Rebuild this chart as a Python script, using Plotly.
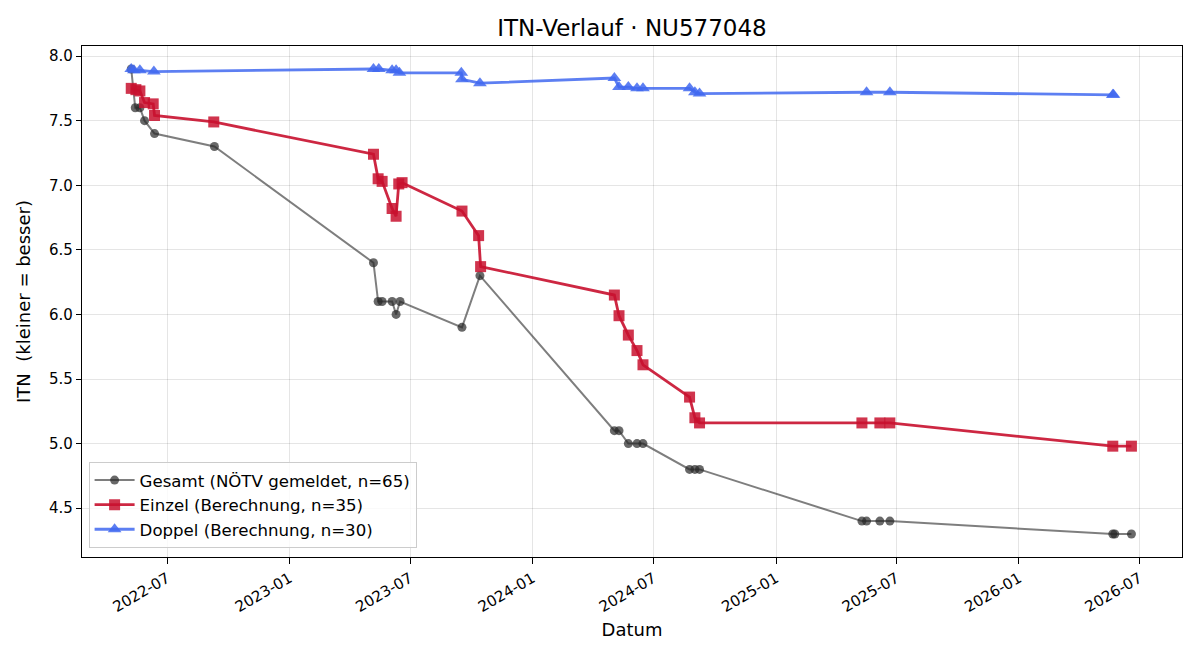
import plotly.graph_objects as go

# ---- data ----
gesamt_dates = ["2022-05-08", "2022-05-14", "2022-05-21", "2022-05-28", "2022-06-12",
                "2022-09-10", "2023-05-07", "2023-05-14", "2023-05-20", "2023-06-04",
                "2023-06-10", "2023-06-16", "2023-09-17", "2023-10-14", "2024-05-03",
                "2024-05-10", "2024-05-24", "2024-06-06", "2024-06-15", "2024-08-24",
                "2024-09-01", "2024-09-08", "2025-05-10", "2025-05-17", "2025-06-06",
                "2025-06-21", "2026-05-22", "2026-05-25", "2026-06-19"]
gesamt_vals = [7.9, 7.6, 7.6, 7.5, 7.4,
               7.3, 6.4, 6.1, 6.1, 6.1,
               6.0, 6.1, 5.9, 6.3, 5.1,
               5.1, 5.0, 5.0, 5.0, 4.8,
               4.8, 4.8, 4.4, 4.4, 4.4,
               4.4, 4.3, 4.3, 4.3]

einzel_dates = ["2022-05-08", "2022-05-15", "2022-05-21", "2022-05-28", "2022-06-10",
                "2022-06-12", "2022-09-09", "2023-05-07", "2023-05-14", "2023-05-20",
                "2023-06-04", "2023-06-10", "2023-06-14", "2023-06-19", "2023-09-17",
                "2023-10-12", "2023-10-15", "2024-05-03", "2024-05-10", "2024-05-24",
                "2024-06-06", "2024-06-15", "2024-08-24", "2024-09-01", "2024-09-08",
                "2025-05-10", "2025-06-06", "2025-06-21", "2026-05-22", "2026-06-19"]
einzel_vals = [7.75, 7.74, 7.73, 7.64, 7.63,
               7.54, 7.49, 7.24, 7.05, 7.03,
               6.82, 6.76, 7.01, 7.02, 6.80,
               6.61, 6.37, 6.15, 5.99, 5.84,
               5.72, 5.61, 5.36, 5.20, 5.16,
               5.16, 5.16, 5.16, 4.98, 4.98]

doppel_dates = ["2022-05-08", "2022-05-12", "2022-05-21", "2022-06-11", "2023-05-07",
                "2023-05-15", "2023-06-04", "2023-06-10", "2023-06-15", "2023-09-16",
                "2023-09-17", "2023-10-14", "2024-05-03", "2024-05-10", "2024-05-24",
                "2024-06-06", "2024-06-15", "2024-08-24", "2024-09-01", "2024-09-08",
                "2025-05-17", "2025-06-21", "2026-05-22", "2026-05-23"]
doppel_vals = [7.90, 7.89, 7.89, 7.88, 7.90,
               7.90, 7.89, 7.89, 7.87, 7.87,
               7.82, 7.79, 7.83, 7.76, 7.76,
               7.75, 7.75, 7.75, 7.72, 7.71,
               7.72, 7.72, 7.70, 7.70]

names = ["Gesamt (NÖTV gemeldet, n=65)",
         "Einzel (Berechnung, n=35)",
         "Doppel (Berechnung, n=30)"]

FONT = "DejaVu Sans"

fig = go.Figure()
fig.add_trace(go.Scatter(
    x=gesamt_dates, y=gesamt_vals, mode="lines+markers", name=names[0],
    line=dict(color="rgba(40,40,40,0.6)", width=2),
    marker=dict(symbol="circle", size=9, color="rgba(40,40,40,0.7)", line=dict(width=0)),
))
fig.add_trace(go.Scatter(
    x=einzel_dates, y=einzel_vals, mode="lines+markers", name=names[1],
    line=dict(color="rgba(200,16,46,0.9)", width=2.8),
    marker=dict(symbol="square", size=11, color="rgba(200,16,46,0.85)", line=dict(width=0)),
))
fig.add_trace(go.Scatter(
    x=doppel_dates, y=doppel_vals, mode="lines+markers", name=names[2],
    line=dict(color="rgba(65,105,240,0.85)", width=2.8),
    marker=dict(symbol="triangle-up", size=12, color="rgba(65,105,240,0.85)", line=dict(width=0)),
))

fig.update_layout(
    width=1200, height=660,
    margin=dict(l=82, r=18, t=46, b=103),
    paper_bgcolor="white", plot_bgcolor="white",
    font=dict(family=FONT, size=15, color="black"),
    title=dict(text="ITN-Verlauf · NU577048", x=0.5, xref="paper", xanchor="center",
               y=1 - 28 / 660, yanchor="middle", font=dict(size=23, family=FONT)),
    showlegend=True,
    legend=dict(x=0.006, y=0.018, xanchor="left", yanchor="bottom",
                bgcolor="rgba(255,255,255,0.8)", bordercolor="#cccccc", borderwidth=1,
                font=dict(size=16.6, family=FONT), tracegroupgap=0, itemwidth=40),
)
fig.update_xaxes(
    title=dict(text="Datum", font=dict(size=18), standoff=8),
    type="date", range=["2022-02-23", "2026-09-03"],
    tick0="2022-01-01", dtick="M6", tickformat="%Y-%m", tickangle=-30,
    ticks="outside", ticklen=6, tickcolor="black", tickfont=dict(size=15),
    showline=True, linecolor="black", linewidth=1.2, mirror=True,
    showgrid=True, gridcolor="rgba(0,0,0,0.1)", gridwidth=1, zeroline=False,
)
fig.update_yaxes(
    title=dict(text="ITN  (kleiner = besser)", font=dict(size=18), standoff=13),
    range=[4.122, 8.078], tick0=4.5, dtick=0.5, tickformat=".1f",
    ticks="outside", ticklen=5, tickcolor="black", tickfont=dict(size=15),
    showline=True, linecolor="black", linewidth=1.2, mirror=True,
    showgrid=True, gridcolor="rgba(0,0,0,0.1)", gridwidth=1, zeroline=False,
)

fig.write_html("out.html")
